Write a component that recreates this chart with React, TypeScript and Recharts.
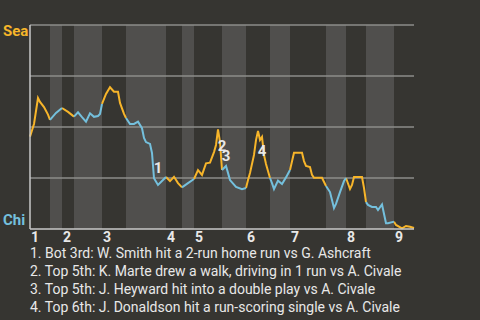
import React from "react";
import { LineChart, Line, XAxis, YAxis, ReferenceArea, ReferenceLine, ReferenceDot } from "recharts";

// play index (sequence of plays) and Seattle win probability after each play
const plays = [
  0, 2, 4, 5, 7, 9, 10, 13, 16, 19, 22, 24, 26, 28, 30, 32, 34, 35, 36, 38, 40, 42, 44, 45, 47, 48,
  50, 52, 54, 56, 57, 58, 60, 61, 62, 64, 68, 70, 72, 74, 76, 79, 82, 84, 86, 88, 90, 92, 93, 94, 95,
  96, 97, 98, 99, 100, 103, 106, 108, 109, 110, 112, 113, 114, 115, 116, 117, 118, 120, 121, 122, 124,
  126, 128, 130, 132, 136, 137, 138, 140, 141, 142, 146, 148, 150, 152, 153, 155, 157, 158, 160, 161,
  162, 166, 167, 168, 169, 171, 173, 174, 176, 178, 179, 182, 183, 186, 188, 190, 192,
];
const seaWinProb = [
  0.453, 0.515, 0.642, 0.623, 0.598, 0.561, 0.535, 0.569, 0.593, 0.574, 0.551, 0.572, 0.548, 0.526,
  0.567, 0.55, 0.554, 0.564, 0.613, 0.662, 0.695, 0.673, 0.673, 0.618, 0.564, 0.544,
  0.515, 0.515, 0.526, 0.494, 0.446, 0.426, 0.417, 0.373, 0.249, 0.216, 0.255, 0.235, 0.256, 0.225,
  0.204, 0.225, 0.245, 0.289, 0.265, 0.322, 0.325, 0.377, 0.412, 0.488, 0.426,
  0.289, 0.299, 0.309, 0.275, 0.24, 0.206, 0.195, 0.201, 0.24, 0.275, 0.363, 0.436, 0.48, 0.436, 0.451,
  0.363, 0.319, 0.25, 0.225, 0.196, 0.237,
  0.221, 0.253, 0.289, 0.374, 0.374, 0.333, 0.309, 0.304, 0.265, 0.251, 0.251, 0.211, 0.181, 0.103,
  0.123, 0.181, 0.235, 0.25, 0.196, 0.216,
  0.255, 0.255, 0.201, 0.132, 0.118, 0.108, 0.108, 0.093, 0.12, 0.028, 0.028, 0.036, 0.02, 0.003,
  0.015, 0.011, 0.005,
];

// first play of each half inning (top 1st, bottom 1st, top 2nd, ...)
const halfInningStarts = [0, 10, 16, 22, 36, 48, 68, 76, 82, 96, 108, 120, 130, 148, 158, 168, 182];
const lastPlay = 192;
const inningLabels = ["1", "2", "3", "4", "5", "6", "7", "8", "9"];
const teamLabels = ["Chi", "Sea"];

const eventPlays = [62, 94, 96, 114];
const eventNumbers = ["1", "2", "3", "4"];
const eventNotes = [
  "1. Bot 3rd: W. Smith hit a 2-run home run vs G. Ashcraft",
  "2. Top 5th: K. Marte drew a walk, driving in 1 run vs A. Civale",
  "3. Top 5th: J. Heyward hit into a double play vs A. Civale",
  "4. Top 6th: J. Donaldson hit a run-scoring single vs A. Civale",
];
const eventLabelDy = [-10, 17, -14, 20];

const SEA = "#F7B52A";
const CHI = "#74C0DD";
const BG = "#363531";
const BAND = "#504F4D";
const GRID = "#8C8C8A";
const AXIS = "#C8C8C8";
const TEXT = "#E8E8E8";
const FONT = "Roboto, sans-serif";

const halfEnds = halfInningStarts.map((s, i) => (i < halfInningStarts.length - 1 ? halfInningStarts[i + 1] : lastPlay));

const data = plays.map((p, i) => {
  let top = false;
  let bottom = false;
  halfInningStarts.forEach((s, h) => {
    if (p >= s && p <= halfEnds[h]) {
      if (h % 2 === 0) top = true;
      else bottom = true;
    }
  });
  return { play: p, sea: top ? seaWinProb[i] : null, chi: bottom ? seaWinProb[i] : null };
});

const inningStarts = halfInningStarts.filter((_, i) => i % 2 === 0);

const InningTick = (props: any) => {
  const { x, y, payload } = props;
  const idx = inningStarts.indexOf(payload.value);
  return (
    <text x={x + 1} y={y + 5} textAnchor="start" fill={TEXT} fontSize={14} fontWeight={700} fontFamily={FONT}>
      {inningLabels[idx]}
    </text>
  );
};

const TeamTick = (props: any) => {
  const { y, payload } = props;
  const isSea = payload.value === 1;
  return (
    <text
      x={3}
      y={isSea ? y + 6 : y - 9}
      dominantBaseline="central"
      textAnchor="start"
      fill={isSea ? SEA : CHI}
      fontSize={15}
      fontWeight={700}
      fontFamily={FONT}
    >
      {teamLabels[payload.value]}
    </text>
  );
};

export default function App() {
  return (
    <div style={{ position: "fixed", left: 0, top: 0, width: 480, height: 320, background: BG, fontFamily: FONT }}>
      <LineChart width={480} height={320} data={data} margin={{ top: 25, right: 66, left: 0, bottom: 71 }}>
        <XAxis
          dataKey="play"
          type="number"
          domain={[0, lastPlay]}
          ticks={inningStarts}
          tick={<InningTick />}
          interval={0}
          height={20}
          tickLine={false}
          axisLine={{ stroke: AXIS, strokeWidth: 1.5 }}
        />
        <YAxis
          type="number"
          domain={[0, 1]}
          ticks={[0, 1]}
          tick={<TeamTick />}
          width={30}
          tickLine={false}
          axisLine={{ stroke: AXIS, strokeWidth: 1.5 }}
        />
        {halfInningStarts.map((s, i) =>
          i % 2 === 1 ? (
            <ReferenceArea key={s} x1={s} x2={halfEnds[i]} y1={0} y2={1} fill={BAND} fillOpacity={1} stroke="none" />
          ) : null
        )}
        {[0.25, 0.5, 0.75, 1].map((v) => (
          <ReferenceLine key={v} y={v} stroke={GRID} strokeWidth={1.5} />
        ))}
        <Line dataKey="sea" stroke={SEA} strokeWidth={2} dot={false} isAnimationActive={false} connectNulls={false} />
        <Line dataKey="chi" stroke={CHI} strokeWidth={2} dot={false} isAnimationActive={false} connectNulls={false} />
        {eventPlays.map((p, i) => (
          <ReferenceDot
            key={p}
            x={p}
            y={seaWinProb[plays.indexOf(p)]}
            r={0}
            shape={(s: any) => (
              <text
                x={s.cx + 4}
                y={s.cy + eventLabelDy[i]}
                textAnchor="middle"
                dominantBaseline="central"
                fill={TEXT}
                fontSize={15}
                fontWeight={700}
                fontFamily={FONT}
              >
                {eventNumbers[i]}
              </text>
            )}
          />
        ))}
      </LineChart>
      <div style={{ position: "absolute", left: 30, top: 244, fontSize: 14, lineHeight: "18px", color: TEXT, whiteSpace: "nowrap" }}>
        {eventNotes.map((n) => (
          <div key={n}>{n}</div>
        ))}
      </div>
    </div>
  );
}
